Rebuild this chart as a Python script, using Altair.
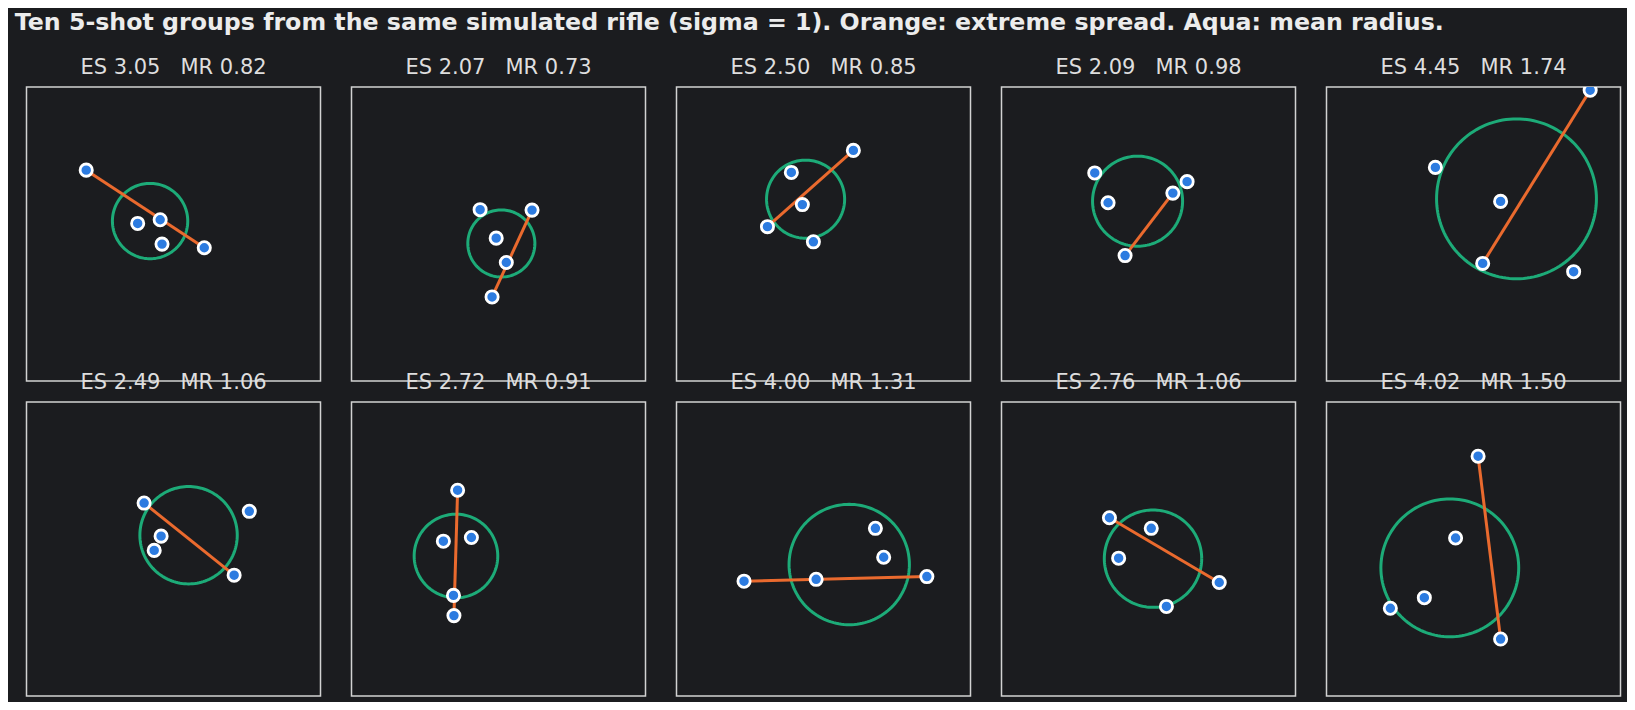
import altair as alt
import pandas as pd
import numpy as np

TITLE = ("Ten 5-shot groups from the same simulated rifle (sigma = 1). "
         "Orange: extreme spread. Aqua: mean radius.")

# shot coordinates per group
SHOT_X = [
    [-1.90, -0.78, -0.29, -0.25, 0.67],
    [-0.40, 0.73, -0.05, 0.17, -0.14],
    [-0.70, 0.65, -0.46, -1.22, -0.22],
    [-1.17, 0.84, -0.88, 0.53, -0.51],
    [2.54, -0.83, 0.59, 0.20, 2.18],
    [-0.64, 1.65, -0.27, -0.42, 1.32],
    [-0.89, -1.20, -0.59, -0.98, -0.97],
    [-1.73, -0.16, 1.13, 1.31, 2.25],
    [-0.85, 0.06, -0.65, 1.54, 0.39],
    [0.10, -0.39, -1.07, -1.81, 0.59],
]
SHOT_Y = [
    [1.39, 0.23, 0.31, -0.22, -0.30],
    [0.53, 0.52, -0.09, -0.62, -1.37],
    [1.34, 1.82, 0.64, 0.16, -0.17],
    [1.33, 1.14, 0.68, 0.89, -0.47],
    [3.13, 1.45, 0.71, -0.64, -0.82],
    [1.00, 0.82, 0.28, -0.03, -0.57],
    [1.28, 0.17, 0.25, -1.01, -1.45],
    [-0.70, -0.66, 0.45, -0.18, -0.60],
    [0.68, 0.45, -0.20, -0.73, -1.25],
    [2.02, 0.24, -1.06, -1.29, -1.96],
]
# shots joined by the orange extreme-spread line
ES_PAIR = [(0, 4), (1, 4), (1, 3), (3, 4), (0, 3), (0, 4), (0, 4), (0, 4), (0, 3), (0, 4)]
ES = [3.05, 2.07, 2.50, 2.09, 4.45, 2.49, 2.72, 4.00, 2.76, 4.02]
MR = [0.82, 0.73, 0.85, 0.98, 1.74, 1.06, 0.91, 1.31, 1.06, 1.50]

BG = "#1b1c1f"
ORANGE = "#ea6a2e"
GREEN = "#1dab78"
BLUE = "#2c7be0"
FRAME = "#d2d2d2"
FONT = "DejaVu Sans"

DOM = [-3.2, 3.2]
PANEL = 294

panels = []
for g in range(10):
    xs, ys = SHOT_X[g], SHOT_Y[g]
    cx, cy = float(np.mean(xs)), float(np.mean(ys))
    shots = pd.DataFrame({"x": xs, "y": ys})
    i, j = ES_PAIR[g]
    es_df = pd.DataFrame({"x": [xs[i], xs[j]], "y": [ys[i], ys[j]], "o": [0, 1]})
    t = np.linspace(0, 2 * np.pi, 145)
    circ = pd.DataFrame({"x": cx + MR[g] * np.cos(t),
                         "y": cy + MR[g] * np.sin(t),
                         "o": np.arange(len(t))})
    xe = alt.X("x:Q", scale=alt.Scale(domain=DOM, nice=False, zero=False), axis=None)
    ye = alt.Y("y:Q", scale=alt.Scale(domain=DOM, nice=False, zero=False), axis=None)
    c = alt.Chart(circ).mark_line(color=GREEN, strokeWidth=3, clip=True).encode(
        x=xe, y=ye, order="o:Q")
    l = alt.Chart(es_df).mark_line(color=ORANGE, strokeWidth=3, clip=True).encode(
        x=xe, y=ye, order="o:Q")
    p = alt.Chart(shots).mark_point(shape="circle", filled=True, fill=BLUE, stroke="white",
                                    strokeWidth=2.8, size=150, opacity=1, clip=True).encode(
        x=xe, y=ye)
    label = f"ES {ES[g]:.2f}\u00a0\u00a0\u00a0MR {MR[g]:.2f}"
    panels.append(
        alt.layer(c, l, p).properties(
            width=PANEL, height=PANEL,
            title=alt.TitleParams(label, font=FONT, fontSize=21, fontWeight="normal",
                                  color="#dedede", anchor="middle", baseline="alphabetic",
                                  offset=-8, frame="group"),
        )
    )

chart = alt.concat(*panels, columns=5, spacing={"row": 21, "column": 31}, bounds="flush").properties(
    title=alt.TitleParams(TITLE, font=FONT, fontSize=23.7, fontWeight="bold", color="#ececec",
                          anchor="start", dx=-11, offset=3, baseline="alphabetic"),
    background=BG,
    padding={"left": 6.5, "top": 2, "right": 5, "bottom": 5},
).configure_view(stroke=FRAME, strokeWidth=1.5, fill=BG)

chart.save("out.html", embed_options={"renderer": "svg", "actions": False})
